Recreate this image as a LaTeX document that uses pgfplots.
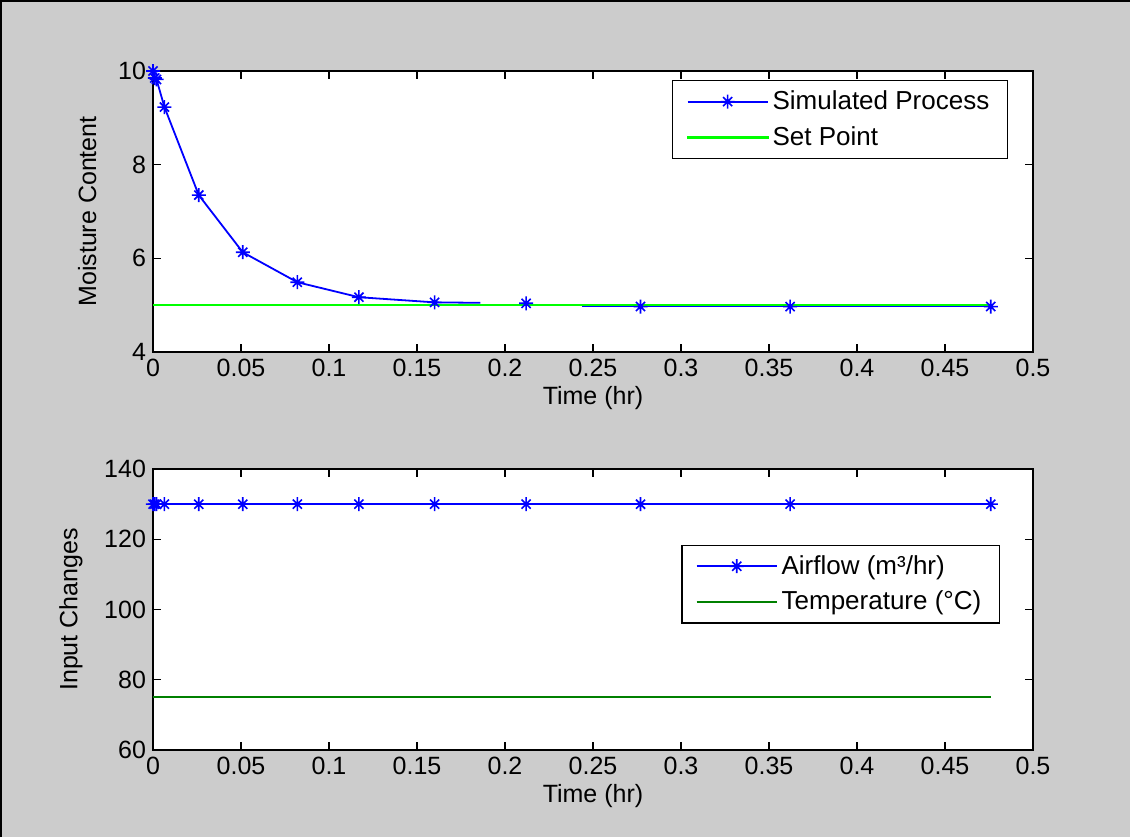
\documentclass[border=0pt]{standalone}
\usepackage{pgfplots}
\pgfplotsset{compat=1.18}
\usepackage{fontspec}
\setmainfont{Liberation Sans}
\definecolor{mgray}{RGB}{204,204,204}
\definecolor{mgreen}{RGB}{0,128,0}
\definecolor{sgreen}{RGB}{0,255,0}
\definecolor{mblue}{RGB}{0,0,255}
\pgfdeclareplotmark{mstar}{%
  \pgfpathmoveto{\pgfqpoint{0pt}{\pgfplotmarksize}}%
  \pgfpathlineto{\pgfqpoint{0pt}{-\pgfplotmarksize}}%
  \pgfpathmoveto{\pgfqpoint{\pgfplotmarksize}{0pt}}%
  \pgfpathlineto{\pgfqpoint{-\pgfplotmarksize}{0pt}}%
  \pgfpathmoveto{\pgfqpoint{0.65\pgfplotmarksize}{0.65\pgfplotmarksize}}%
  \pgfpathlineto{\pgfqpoint{-0.65\pgfplotmarksize}{-0.65\pgfplotmarksize}}%
  \pgfpathmoveto{\pgfqpoint{0.65\pgfplotmarksize}{-0.65\pgfplotmarksize}}%
  \pgfpathlineto{\pgfqpoint{-0.65\pgfplotmarksize}{0.65\pgfplotmarksize}}%
  \pgfusepathqstroke}
\begin{document}
\begin{tikzpicture}
\fill[mgray] (0,0) rectangle (565pt,418.5pt);
\useasboundingbox (0,0) rectangle (565pt,418.5pt);
\draw[black,line width=1.2pt] (0.6pt,0) -- (0.6pt,417.9pt) -- (565pt,417.9pt);
\pgfplotsset{
  every axis/.append style={
    scale only axis, width=440pt, height=140.5pt,
    anchor=south west,
    axis background/.style={fill=white},
    xmin=0, xmax=0.5,
    xtick={0,0.05,...,0.5},
    font=\fontsize{12.5}{14}\selectfont,
    tick align=inside,
    major tick length=4pt,
    axis line style={black, line width=0.7pt},
    every tick/.style={black, line width=0.7pt},
    /pgf/number format/assume math mode=true,
    xticklabel style={/pgf/number format/fixed,/pgf/number format/precision=2},
    xlabel={Time (hr)},
    legend cell align=left,
    legend style={draw=black, line width=0.7pt, font=\fontsize{13}{15}\selectfont, inner xsep=7pt, inner ysep=3pt, row sep=3pt},
    legend image code/.code={\draw[mark repeat=2,mark phase=2,#1] plot coordinates {(0pt,0pt)(20pt,0pt)(40pt,0pt)};},
    xlabel style={yshift=2pt},
    ylabel style={yshift=4pt},
  }
}
\begin{axis}[at={(76.5pt,242.5pt)},
  ymin=4, ymax=10, ytick={4,6,8,10},
  ylabel={Moisture Content},
  legend style={at={(0.9716,0.968)}, anchor=north east},
]
\addplot[draw=mblue, line width=0.9pt, mark=mstar, mark size=3.5pt, mark options={draw=mblue, line width=0.8pt}] coordinates {
(0,10) (0.001,9.85) (0.002,9.82) (0.0065,9.23) (0.026,7.35) (0.051,6.13) (0.082,5.49) (0.117,5.17) (0.160,5.06)
};
\addlegendentry{Simulated Process}
\addplot[draw=sgreen, line width=0.9pt, legend image code/.code={\fill[sgreen] (0pt,-0.45pt) rectangle (40pt,0.45pt);}] coordinates {(0,5.0) (0.476,5.0)};
\addlegendentry{Set Point}
\addplot[draw=mblue, line width=0.9pt, forget plot] coordinates {(0.160,5.06) (0.186,5.05)};
\addplot[draw=mblue, line width=0.9pt, forget plot] coordinates {(0.244,4.97) (0.277,4.97) (0.362,4.97) (0.476,4.97)};
\addplot[draw=mblue, only marks, mark=mstar, mark size=3.5pt, line width=0.8pt, mark options={draw=mblue}, forget plot] coordinates {
(0.212,5.04) (0.277,4.97) (0.362,4.97) (0.476,4.97)
};
\end{axis}
\begin{axis}[at={(76.5pt,43.5pt)},
  ymin=60, ymax=140, ytick={60,80,...,140},
  ylabel={Input Changes},
  legend style={at={(0.9625,0.731)}, anchor=north east},
]
\addplot[draw=mblue, line width=0.9pt, mark=mstar, mark size=3.5pt, mark options={draw=mblue, line width=0.8pt}] coordinates {
(0,130) (0.001,130) (0.002,130) (0.0065,130) (0.026,130) (0.051,130) (0.082,130) (0.117,130) (0.160,130) (0.212,130) (0.277,130) (0.362,130) (0.476,130)
};
\addlegendentry{Airflow (m³/hr)}
\addplot[draw=mgreen, line width=0.9pt] coordinates {(0,75) (0.476,75)};
\addlegendentry{Temperature (°C)}
\end{axis}
\end{tikzpicture}
\end{document}
